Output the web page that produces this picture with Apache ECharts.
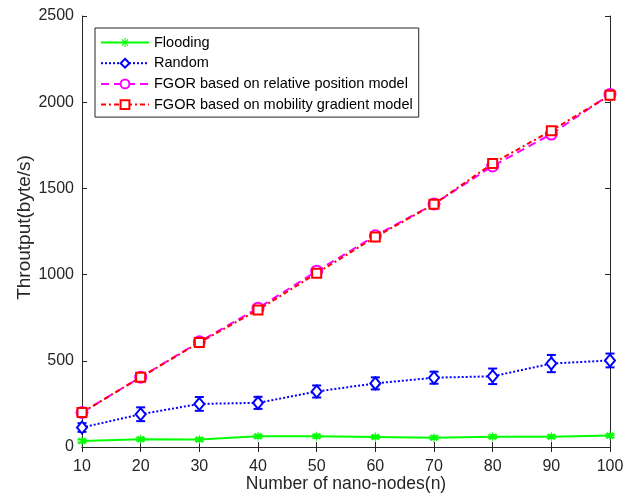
<!DOCTYPE html>
<html>
<head>
<meta charset="utf-8">
<script src="https://cdn.jsdelivr.net/npm/echarts@6/dist/echarts.min.js"></script>
<style>
    html, body { margin: 0; padding: 0; background: #fff; }
    .chart { width: 641px; height: 504px; }
</style>
</head>
<body>
<div class="chart"></div>
<script>
// data
var nodes = [10, 20, 30, 40, 50, 60, 70, 80, 90, 100];
var flooding = [35, 45, 43, 62, 62, 58, 54, 60, 60, 66];
var floodingErr = [10, 10, 10, 10, 10, 10, 10, 10, 10, 10];
var random = [113, 190, 250, 256, 322, 369, 402, 410, 484, 502];
var randomErr = [25, 40, 40, 35, 35, 35, 35, 45, 50, 40];
var relative = [200, 405, 610, 805, 1020, 1225, 1410, 1630, 1815, 2045];
var relativeErr = [15, 15, 15, 15, 15, 15, 15, 15, 15, 15];
var mobility = [200, 405, 606, 795, 1008, 1218, 1408, 1645, 1835, 2040];
var mobilityErr = [15, 15, 15, 15, 15, 15, 15, 15, 15, 15];
var yTicks = [0, 500, 1000, 1500, 2000, 2500];

var font = 'Liberation Sans, Arial, sans-serif';
var axisColor = '#262626';

// asterisk marker (matlab '*')
var asterisk = 'path://M44,0L56,0L56,100L44,100Z M0,44L100,44L100,56L0,56Z ' +
    'M11,19L19,11L89,81L81,89Z M81,11L89,19L19,89L11,81Z';

function pairs(vals) {
    return nodes.map(function (x, i) { return [x, vals[i]]; });
}
function triples(vals, errs) {
    return nodes.map(function (x, i) { return [x, vals[i], errs[i]]; });
}

// error bars drawn through the axis scales
function errorSeries(name, vals, errs, color, width) {
    return {
        name: name + ' err',
        type: 'custom',
        data: triples(vals, errs),
        z: 3,
        renderItem: function (params, api) {
            var x = api.value(0), y = api.value(1), e = api.value(2);
            var lo = api.coord([x, y - e]);
            var hi = api.coord([x, y + e]);
            var w = 4.5;
            var style = { stroke: color, lineWidth: width };
            return {
                type: 'group',
                children: [
                    { type: 'line', shape: { x1: lo[0], y1: lo[1], x2: hi[0], y2: hi[1] }, style: style },
                    { type: 'line', shape: { x1: lo[0] - w, y1: lo[1], x2: lo[0] + w, y2: lo[1] }, style: style },
                    { type: 'line', shape: { x1: hi[0] - w, y1: hi[1], x2: hi[0] + w, y2: hi[1] }, style: style }
                ]
            };
        }
    };
}

var myChart = echarts.init(document.querySelector('.chart'), null, { renderer: 'canvas' });

var option = {
    backgroundColor: '#fff',
    animation: false,
    textStyle: { fontFamily: font },
    grid: { left: 82, right: 31, top: 16, bottom: 57 },
    legend: {
        orient: 'vertical',
        left: 95,
        top: 28,
        padding: [7, 6, 5, 5],
        itemWidth: 48,
        itemHeight: 11,
        itemGap: 5.7,
        borderColor: axisColor,
        borderWidth: 1,
        backgroundColor: '#fff',
        textStyle: { fontFamily: font, fontSize: 14.5, color: '#000', lineHeight: 15 },
        data: ['Flooding', 'Random', 'FGOR based on relative position model', 'FGOR based on mobility gradient model']
    },
    xAxis: [
        {
            type: 'value',
            min: 10,
            max: 100,
            interval: 10,
            name: 'Number of nano-nodes(n)',
            nameLocation: 'middle',
            nameGap: 28,
            nameMoveOverlap: false,
            nameTextStyle: { fontFamily: font, fontSize: 17.5, color: axisColor },
            axisLine: { lineStyle: { color: axisColor, width: 1 } },
            axisTick: { inside: true, length: 5, lineStyle: { color: axisColor } },
            axisLabel: { margin: 12, fontFamily: font, fontSize: 16, color: axisColor },
            splitLine: { show: false }
        },
        {
            type: 'value',
            position: 'top',
            min: 10,
            max: 100,
            interval: 10,
            axisLine: { lineStyle: { color: axisColor, width: 1 } },
            axisTick: { inside: true, length: 5, lineStyle: { color: axisColor } },
            axisLabel: { show: false },
            splitLine: { show: false }
        }
    ],
    yAxis: [
        {
            type: 'value',
            min: yTicks[0],
            max: yTicks[yTicks.length - 1],
            interval: 500,
            name: 'Throutput(byte/s)',
            nameLocation: 'middle',
            nameGap: 48,
            nameMoveOverlap: false,
            nameTextStyle: { fontFamily: font, fontSize: 19, color: axisColor, padding: [0, 0, 0, 8] },
            axisLine: { show: true, lineStyle: { color: axisColor, width: 1 } },
            axisTick: { show: true, inside: true, length: 5, lineStyle: { color: axisColor } },
            axisLabel: {
                margin: 8, fontFamily: font, fontSize: 16, color: axisColor,
                formatter: function (v) { return String(v); }
            },
            splitLine: { show: false }
        },
        {
            type: 'value',
            position: 'right',
            min: yTicks[0],
            max: yTicks[yTicks.length - 1],
            interval: 500,
            axisLine: { show: true, lineStyle: { color: axisColor, width: 1 } },
            axisTick: { show: true, inside: true, length: 5, lineStyle: { color: axisColor } },
            axisLabel: { show: false },
            splitLine: { show: false }
        }
    ],
    series: [
        errorSeries('Flooding', flooding, floodingErr, '#00ff00', 1.5),
        {
            name: 'Flooding',
            type: 'line',
            data: pairs(flooding),
            z: 4,
            symbol: asterisk,
            symbolSize: 9,
            itemStyle: { color: '#00ff00' },
            lineStyle: { color: '#00ff00', width: 2 }
        },
        errorSeries('Random', random, randomErr, '#0000ff', 2),
        {
            name: 'Random',
            type: 'line',
            data: pairs(random),
            z: 4,
            symbol: 'emptyDiamond',
            symbolSize: [10, 12],
            itemStyle: { color: '#0000ff', borderColor: '#0000ff', borderWidth: 2 },
            lineStyle: { color: '#0000ff', width: 2, type: [2, 2] }
        },
        errorSeries('FGOR relative', relative, relativeErr, '#ff00ff', 1.5),
        {
            name: 'FGOR based on relative position model',
            type: 'line',
            data: pairs(relative),
            z: 4,
            symbol: 'emptyCircle',
            symbolSize: 11,
            itemStyle: { color: '#ff00ff', borderColor: '#ff00ff', borderWidth: 1.5 },
            lineStyle: { color: '#ff00ff', width: 2, type: [8, 5] }
        },
        errorSeries('FGOR mobility', mobility, mobilityErr, '#ff0000', 1.5),
        {
            name: 'FGOR based on mobility gradient model',
            type: 'line',
            data: pairs(mobility),
            z: 5,
            symbol: 'emptyRect',
            symbolSize: 9,
            itemStyle: { color: '#ff0000', borderColor: '#ff0000', borderWidth: 1.5 },
            lineStyle: { color: '#ff0000', width: 2, type: [5, 3, 2, 3] }
        }
    ]
};

myChart.setOption(option);
</script>
</body>
</html>
